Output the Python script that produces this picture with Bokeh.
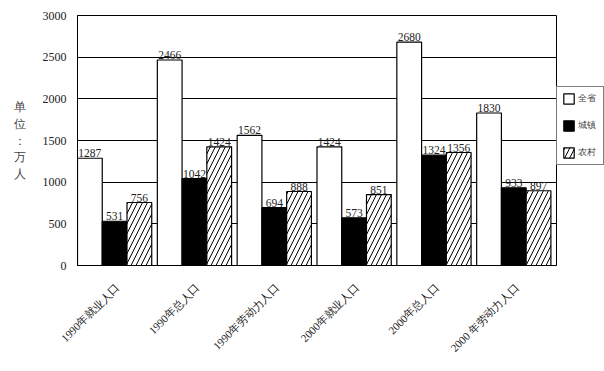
from bokeh.plotting import figure
from bokeh.models import ColumnDataSource, FactorRange, Range1d, FixedTicker, Legend, LegendItem
from bokeh.transform import dodge
from bokeh.core.properties import value
from bokeh.embed import file_html
from bokeh.resources import INLINE

categories = ["1990年就业人口", "1990年总人口", "1990年劳动力人口",
              "2000年就业人口", "2000年总人口", "2000 年劳动力人口"]
province = [1287, 2466, 1562, 1424, 2680, 1830]   # 全省
urban = [531, 1042, 694, 573, 1324, 933]          # 城镇
rural = [756, 1424, 888, 851, 1356, 897]          # 农村
y_ticks = [0, 500, 1000, 1500, 2000, 2500, 3000]

src = ColumnDataSource(dict(
    cat=categories, province=province, urban=urban, rural=rural,
    province_t=[str(v) for v in province],
    urban_t=[str(v) for v in urban],
    rural_t=[str(v) for v in rural],
))

p = figure(frame_width=479, frame_height=250, x_range=FactorRange(*categories, range_padding=0),
           y_range=Range1d(0, 3000), output_backend="svg", toolbar_location=None,
           min_border_left=77, min_border_top=15, min_border_right=0, min_border_bottom=40)

W = 0.31
offs = [-0.345, -0.035, 0.275]
r1 = p.vbar(x=dodge("cat", offs[0], range=p.x_range), top="province", width=W, source=src,
            fill_color="white", line_color="black", line_width=1.2)
r2 = p.vbar(x=dodge("cat", offs[1], range=p.x_range), top="urban", width=W, source=src,
            fill_color="black", line_color="black", line_width=1.2)
r3 = p.vbar(x=dodge("cat", offs[2], range=p.x_range), top="rural", width=W, source=src,
            fill_color="white", line_color="black", line_width=1.2,
            hatch_pattern="/", hatch_color="black", hatch_weight=1, hatch_scale=10)

for col, off in zip(["province", "urban", "rural"], offs):
    p.text(x=dodge("cat", off, range=p.x_range), y=col, text=col + "_t", source=src,
           text_align="center", text_baseline="bottom", y_offset=-1,
           text_font=value("Liberation Serif"), text_font_size="11.5px", text_color="#222222")

p.yaxis.ticker = FixedTicker(ticks=y_ticks)
p.yaxis.major_tick_line_color = None
p.yaxis.minor_tick_line_color = None
p.yaxis.axis_line_color = "black"
p.yaxis.major_label_text_font = "Liberation Serif"
p.yaxis.major_label_text_font_size = "12px"
p.yaxis.major_label_text_color = "#222222"
p.yaxis.axis_label = "单\n位\n：\n万\n人"
p.yaxis.axis_label_orientation = "horizontal"
p.yaxis.axis_label_text_font = "Liberation Serif"
p.yaxis.axis_label_text_font_style = "normal"
p.yaxis.axis_label_text_font_size = "12px"
p.yaxis.axis_label_text_color = "#444444"
p.yaxis.axis_label_standoff = 14

p.xaxis.major_tick_line_color = None
p.xaxis.minor_tick_line_color = None
p.xaxis.axis_line_color = "black"
p.xaxis.major_label_orientation = 0.785
p.xaxis.major_label_text_font = "Liberation Serif"
p.xaxis.major_label_text_font_size = "11px"
p.xaxis.major_label_text_color = "#222222"
p.xaxis.major_label_standoff = 14

p.xgrid.grid_line_color = None
p.ygrid.grid_line_color = "black"
p.ygrid.grid_line_width = 1
p.outline_line_color = "black"

legend = Legend(items=[LegendItem(label="全省", renderers=[r1]),
                       LegendItem(label="城镇", renderers=[r2]),
                       LegendItem(label="农村", renderers=[r3])],
                location=(0, 100), orientation="vertical",
                border_line_color="black", border_line_width=1,
                label_text_font="Liberation Serif", label_text_font_size="9px",
                label_text_color="#444444",
                label_standoff=3, glyph_width=13, glyph_height=13,
                padding=5, spacing=14, margin=0)
p.add_layout(legend, "right")

open("out.html", "w").write(file_html(p, INLINE))
